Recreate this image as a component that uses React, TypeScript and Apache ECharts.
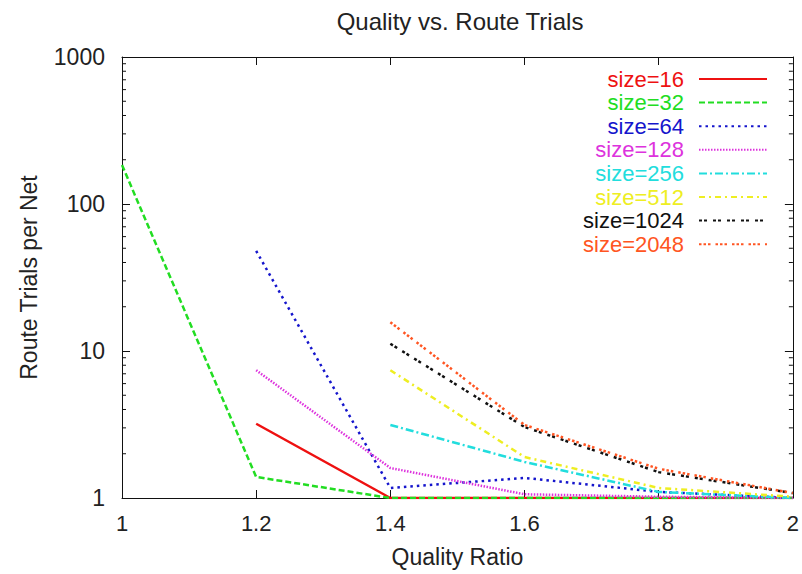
import React, { useEffect, useRef } from 'react';
import * as echarts from 'echarts';

const qualityRatio = [1, 1.2, 1.4, 1.6, 1.8, 2];
const xTickLabels = ['1', '1.2', '1.4', '1.6', '1.8', '2'];
const size16 = [null, 3.2, 1, 1, 1, 1];
const size32 = [184, 1.39, 1, 1, 1, 1];
const size64 = [null, 48, 1.17, 1.37, 1.1, 1.0];
const size128 = [null, 7.4, 1.6, 1.06, 1.02, 1];
const size256 = [null, null, 3.14, 1.76, 1.1, 1];
const size512 = [null, null, 7.4, 1.9, 1.17, 1.02];
const size1024 = [null, null, 11.2, 3.04, 1.5, 1.08];
const size2048 = [null, null, 15.7, 3.14, 1.58, 1.08];
const minorTickValues = [2, 3, 4, 5, 6, 7, 8, 9, 20, 30, 40, 50, 60, 70, 80, 90, 200, 300, 400, 500, 600, 700, 800, 900];

const seriesDefs = [
  { name: 'size=16', data: size16, color: '#ee1111', type: 'solid' as any },
  { name: 'size=32', data: size32, color: '#22dd22', type: [6, 3] },
  { name: 'size=64', data: size64, color: '#1515cc', type: [2.5, 4] },
  { name: 'size=128', data: size128, color: '#dd33dd', type: [1.5, 1.5] },
  { name: 'size=256', data: size256, color: '#22dddd', type: [8, 3, 2, 3] },
  { name: 'size=512', data: size512, color: '#eeee22', type: [6, 4, 2, 4] },
  { name: 'size=1024', data: size1024, color: '#111111', type: [3, 2, 3, 6] },
  { name: 'size=2048', data: size2048, color: '#ff5522', type: [2.5, 2, 2.5, 2, 2.5, 5] },
];

const FONT = 'Liberation Sans, Arial, sans-serif';

export default function App() {
  const ref = useRef<HTMLDivElement>(null);
  useEffect(() => {
    const chart = echarts.init(ref.current!, null, { renderer: 'svg' });
    const lineSeries = seriesDefs.map((s) => ({
      name: s.name,
      type: 'line',
      xAxisIndex: 0,
      yAxisIndex: 0,
      symbol: 'none',
      connectNulls: false,
      data: qualityRatio.map((x, i) => [x, s.data[i]]),
      lineStyle: { color: s.color, width: 2.5, type: s.type },
      itemStyle: { color: s.color },
    }));
    const option: any = {
      animation: false,
      backgroundColor: '#ffffff',
      title: {
        text: 'Quality vs. Route Trials',
        left: 455,
        textAlign: 'center',
        top: 4,
        textStyle: { fontFamily: FONT, fontWeight: 'normal', fontSize: 24, color: '#222' },
      },
      legend: {
        data: seriesDefs.map((s) => ({ name: s.name, textStyle: { color: s.color } })),
        orient: 'vertical',
        right: 29,
        top: 63,
        align: 'right',
        itemWidth: 68,
        itemHeight: 14,
        itemGap: 1.6,
        itemStyle: { color: 'transparent', borderWidth: 0, opacity: 0 },
        textStyle: { fontFamily: FONT, fontSize: 22, lineHeight: 22, padding: [0, 10, 0, 0] },
      },
      grid: { left: 122, right: 7, top: 57, bottom: 76 },
      xAxis: [
        {
          type: 'value',
          min: 1,
          max: 2,
          interval: 0.2,
          name: 'Quality Ratio',
          nameLocation: 'middle',
          nameGap: 47,
          nameTextStyle: { fontFamily: FONT, fontSize: 23, color: '#222' },
          axisLine: { show: true, lineStyle: { color: '#111', width: 1 } },
          axisTick: { show: true, inside: true, length: 8, lineStyle: { color: '#111' } },
          axisLabel: {
            fontFamily: FONT,
            fontSize: 22,
            color: '#222',
            margin: 14,
            formatter: (v: number) => xTickLabels[Math.round((v - 1) / 0.2)] ?? '',
          },
          splitLine: { show: false },
        },
        {
          type: 'value',
          position: 'top',
          min: 1,
          max: 2,
          interval: 0.2,
          axisLine: { show: true, lineStyle: { color: '#111', width: 1 } },
          axisTick: { show: true, inside: true, length: 8, lineStyle: { color: '#111' } },
          axisLabel: { show: false },
          splitLine: { show: false },
        },
      ],
      yAxis: [
        {
          type: 'log',
          logBase: 10,
          min: 1,
          max: 1000,
          name: 'Route Trials per Net',
          nameLocation: 'middle',
          nameGap: 82,
          nameRotate: 90,
          nameTextStyle: { fontFamily: FONT, fontSize: 23, color: '#222' },
          axisLine: { show: true, lineStyle: { color: '#111', width: 1 } },
          axisTick: { show: true, inside: true, length: 8, lineStyle: { color: '#111' } },
          axisLabel: { fontFamily: FONT, fontSize: 23, color: '#222', margin: 17, formatter: (v: number) => String(v) },
          splitLine: { show: false },
        },
        {
          type: 'log',
          logBase: 10,
          min: 1,
          max: 1000,
          position: 'right',
          axisLine: { show: true, lineStyle: { color: '#111', width: 1 } },
          axisTick: { show: true, inside: true, length: 8, lineStyle: { color: '#111' } },
          axisLabel: { show: false },
          splitLine: { show: false },
        },
      ],
      series: [
        ...lineSeries,
        {
          type: 'custom',
          silent: true,
          clip: false,
          xAxisIndex: 0,
          yAxisIndex: 0,
          data: minorTickValues.map((v) => [1, v]),
          renderItem: (params: any, api: any) => {
            const v = api.value(1);
            const l = api.coord([1, v]);
            const r = api.coord([2, v]);
            return {
              type: 'group',
              children: [
                { type: 'line', shape: { x1: l[0], y1: l[1], x2: l[0] + 4, y2: l[1] }, style: { stroke: '#111', lineWidth: 1 } },
                { type: 'line', shape: { x1: r[0], y1: r[1], x2: r[0] - 4, y2: r[1] }, style: { stroke: '#111', lineWidth: 1 } },
              ],
            };
          },
        },
      ],
    };
    chart.setOption(option);
    return () => chart.dispose();
  }, []);
  return <div ref={ref} style={{ position: 'fixed', left: 0, top: 0, width: 802, height: 574 }} />;
}
